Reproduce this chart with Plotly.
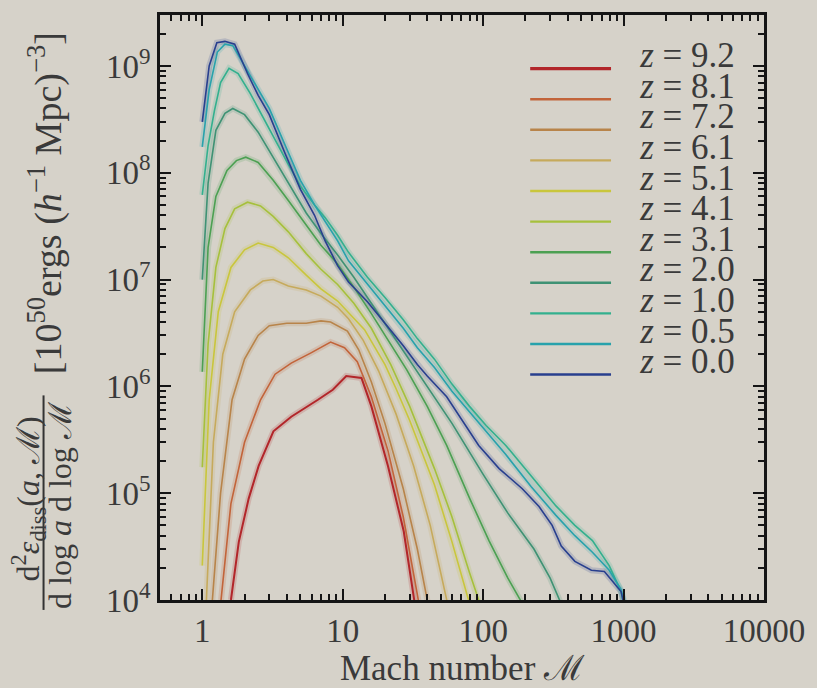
import math
import plotly.graph_objects as go

# ---------------- data ----------------
redshift_labels = ["9.2", "8.1", "7.2", "6.1", "5.1", "4.1", "3.1", "2.0", "1.0", "0.5", "0.0"]

mach_z92 = [1.6, 1.82, 2.14, 2.52, 3.21, 4.3, 6.66, 8.5, 10.6, 13.6, 16, 21, 27.2, 32.5, 35]
edis_z92 = [1e4, 3.5e4, 8.9e4, 1.8e5, 3.8e5, 5.2e5, 7.5e5, 9.3e5, 1.25e6, 1.2e6, 6.5e5, 1.8e5, 4.4e4, 1.05e4, 5e3]

mach_z81 = [1.36, 1.6, 2.0, 2.6, 3.3, 4.3, 5.9, 8.2, 10.3, 12.7, 16, 21, 27, 34.6, 38]
edis_z81 = [1e4, 8e4, 3e5, 7.5e5, 1.3e6, 1.65e6, 2.05e6, 2.6e6, 2.3e6, 1.7e6, 8e5, 2.5e5, 6e4, 1e4, 5e3]

mach_z72 = [1.18, 1.35, 1.63, 2.0, 2.5, 3.0, 4.0, 5.5, 7.0, 8.2, 10.8, 13, 16, 20, 27, 34, 40, 45]
edis_z72 = [1e4, 1e5, 7.5e5, 1.8e6, 3.0e6, 3.7e6, 3.9e6, 3.9e6, 4.1e6, 4.0e6, 3.3e6, 2.2e6, 1.1e6, 4.5e5, 1.1e5, 3.0e4, 1.0e4, 5e3]

mach_z61 = [1.07, 1.2, 1.4, 1.7, 2.2, 2.7, 3.2, 4.1, 5.5, 7.0, 9.2, 11, 14, 18, 24, 32, 42, 55, 60]
edis_z61 = [1e4, 3e5, 2e6, 5e6, 8e6, 9.7e6, 1.0e7, 8.7e6, 8.0e6, 7.0e6, 5.5e6, 4.3e6, 2.7e6, 1.4e6, 5.5e5, 1.8e5, 5e4, 1e4, 6e3]

mach_z51 = [1.0, 1.12, 1.3, 1.6, 2.0, 2.5, 3.2, 4.1, 5.5, 7.0, 9.2, 12, 14.3, 20, 24, 30, 45, 60, 79, 85]
edis_z51 = [2.1e4, 7.5e5, 5e6, 1.3e7, 1.9e7, 2.2e7, 2.0e7, 1.6e7, 1.1e7, 8.2e6, 6.3e6, 4.4e6, 3.4e6, 1.6e6, 9.5e5, 4.8e5, 1.2e5, 3.5e4, 1.0e4, 7e3]

mach_z41 = [1.0, 1.1, 1.25, 1.45, 1.7, 2.1, 2.6, 3.2, 4.1, 5.5, 7.0, 9.2, 12, 16, 22, 30, 45, 60, 80, 93, 100]
edis_z41 = [1.75e5, 2.5e6, 1.3e7, 3.0e7, 4.6e7, 5.3e7, 4.9e7, 3.9e7, 2.8e7, 1.75e7, 1.25e7, 9e6, 6e6, 3.5e6, 1.6e6, 6.5e5, 1.7e5, 6e4, 1.8e4, 1.0e4, 7e3]

mach_z31 = [1.0, 1.1, 1.25, 1.5, 1.75, 2.04, 2.5, 3.2, 4.1, 5.5, 7.0, 9.2, 12, 16, 22, 28.6, 40, 55, 80, 110, 150, 184, 200]
edis_z31 = [1.37e6, 2.0e7, 6e7, 1.05e8, 1.3e8, 1.4e8, 1.25e8, 8.5e7, 5.5e7, 3.2e7, 2.1e7, 1.4e7, 8.5e6, 4.8e6, 2.5e6, 1.43e6, 6.5e5, 2.8e5, 9e4, 3.6e4, 1.6e4, 1.0e4, 7e3]

mach_z20 = [1.0, 1.1, 1.25, 1.45, 1.65, 2.0, 2.5, 3.2, 4.1, 5.5, 7.0, 9.2, 12, 16, 22, 30, 40, 60, 100, 150, 230, 300, 350, 380]
edis_z20 = [1.0e7, 8e7, 2.5e8, 3.6e8, 4.0e8, 3.5e8, 2.4e8, 1.4e8, 8e7, 4.2e7, 2.7e7, 1.7e7, 1.05e7, 6.0e6, 3.2e6, 1.75e6, 1.0e6, 4.5e5, 1.5e5, 6.5e4, 3.0e4, 1.6e4, 1.0e4, 7e3]

mach_z10 = [1.0, 1.1, 1.22, 1.35, 1.55, 1.8, 2.2, 2.7, 3.3, 4.1, 5.0, 6.3, 7.5, 9.2, 11, 15, 20, 27, 34, 45, 60, 80, 105, 145, 220, 330, 450, 600, 790, 960, 1050]
edis_z10 = [6.2e7, 1.8e8, 3.8e8, 7.0e8, 9.5e8, 8.5e8, 5.5e8, 3.3e8, 2.0e8, 1.2e8, 7.5e7, 5.0e7, 3.8e7, 2.6e7, 1.8e7, 1.05e7, 6.8e6, 4.2e6, 2.8e6, 1.8e6, 1.05e6, 6.5e5, 4.3e5, 2.8e5, 1.45e5, 7.6e4, 5.0e4, 3.6e4, 2.1e4, 1.2e4, 7e3]

mach_z05 = [1.0, 1.12, 1.28, 1.45, 1.65, 2.0, 2.5, 3.0, 3.9, 5.0, 6.3, 7.5, 9.2, 11, 15, 20, 27, 34, 45, 60, 80, 105, 145, 220, 330, 450, 600, 790, 960, 1050]
edis_z05 = [1.75e8, 6.0e8, 1.35e9, 1.6e9, 1.55e9, 1.0e9, 6.0e8, 4.0e8, 1.8e8, 8.5e7, 5.0e7, 3.5e7, 2.3e7, 1.5e7, 9.0e6, 5.6e6, 3.5e6, 2.3e6, 1.5e6, 9.0e5, 5.8e5, 3.8e5, 2.3e5, 1.15e5, 6.2e4, 4.0e4, 2.8e4, 1.9e4, 1.25e4, 8e3]

mach_z00 = [1.0, 1.12, 1.27, 1.45, 1.7, 2.1, 2.5, 3.0, 3.9, 5.0, 6.3, 7.5, 9.2, 11, 15, 20, 27, 34, 40, 55, 70, 93, 130, 190, 250, 310, 360, 450, 590, 730, 960, 1080]
edis_z00 = [3.0e8, 1.0e9, 1.65e9, 1.7e9, 1.6e9, 8.5e8, 5.3e8, 3.5e8, 1.5e8, 7.0e7, 4.0e7, 2.3e7, 1.35e7, 9.5e6, 6.2e6, 3.9e6, 2.4e6, 1.6e6, 1.25e6, 8.0e5, 5.0e5, 2.8e5, 1.7e5, 1.1e5, 7.5e4, 5.0e4, 3.2e4, 2.3e4, 1.9e4, 1.85e4, 1.2e4, 6.0e3]

mach_series = [mach_z92, mach_z81, mach_z72, mach_z61, mach_z51, mach_z41,
               mach_z31, mach_z20, mach_z10, mach_z05, mach_z00]
edis_series = [edis_z92, edis_z81, edis_z72, edis_z61, edis_z51, edis_z41,
               edis_z31, edis_z20, edis_z10, edis_z05, edis_z00]

x_tick_vals = [1, 10, 100, 1000, 10000]
x_tick_text = ["1", "10", "100", "1000", "10000"]
y_tick_vals = [1e4, 1e5, 1e6, 1e7, 1e8, 1e9]
y_tick_text = ["10<sup>4</sup>", "10<sup>5</sup>", "10<sup>6</sup>", "10<sup>7</sup>",
               "10<sup>8</sup>", "10<sup>9</sup>"]

# ---------------- styling ----------------
colors = ["#b2262a", "#c2643a", "#b8844a", "#c6aa5c", "#c9c63c", "#a6c03c",
          "#4ca052", "#3f9274", "#33b08e", "#28a2ac", "#283f8e"]
BG = "#d6d2c9"
AX = "#151515"
TXT = "#3a3a3a"
FONT = "Liberation Serif"

W, H = 817, 688
L, R, T, B = 160, 772, 13, 602


def px_x(px):
    return (px - L) / (R - L)


def px_y(py):
    return (B - py) / (B - T)


fig = go.Figure()

# halos (soft glow like the reference) then the lines
for m, e, c in zip(mach_series, edis_series, colors):
    fig.add_trace(go.Scatter(x=m, y=e, mode="lines", line=dict(color=c, width=6),
                             opacity=0.18, hoverinfo="skip", showlegend=False))
for m, e, c, z in zip(mach_series, edis_series, colors, redshift_labels):
    fig.add_trace(go.Scatter(x=m, y=e, mode="lines",
                             line=dict(color=c, width=2.0 if z == "9.2" else 1.6),
                             name="z = " + z, showlegend=False))

# legend drawn on its own hidden axes
n = len(redshift_labels)
for k, (c, z) in enumerate(zip(colors, redshift_labels)):
    fig.add_trace(go.Scatter(x=[0, 1], y=[k, k], mode="lines", xaxis="x2", yaxis="y2",
                             line=dict(color=c, width=3.2 if z == "9.2" else 2.4),
                             showlegend=False, hoverinfo="skip"))
fig.add_trace(go.Scatter(x=[1.36] * n, y=[k - 0.33 for k in range(n)], mode="text",
                         xaxis="x2", yaxis="y2",
                         text=["<i>z</i> = " + z for z in redshift_labels],
                         textposition="middle right",
                         textfont=dict(family=FONT, size=35, color=TXT),
                         cliponaxis=False, showlegend=False, hoverinfo="skip"))

minor_x = [mm * 10 ** ex for ex in range(-1, 4) for mm in range(2, 10)]
minor_y = [mm * 10 ** ex for ex in range(4, 10) for mm in range(2, 10)]

axis_common = dict(type="log", ticks="inside", ticklen=11, tickwidth=2, tickcolor=AX,
                   showline=True, linecolor=AX, linewidth=2.5, mirror="allticks",
                   showgrid=False, zeroline=False,
                   tickfont=dict(family=FONT, size=33, color=TXT))

leg_top, leg_step = 67, 30.8
fig.update_layout(
    width=W, height=H,
    margin=dict(l=L, r=W - R, t=T, b=H - B),
    paper_bgcolor=BG, plot_bgcolor="rgba(0,0,0,0)",
    showlegend=False,
    font=dict(family=FONT, color=TXT),
    xaxis=dict(axis_common, range=[math.log10(0.5), 4], tickvals=x_tick_vals,
               ticktext=x_tick_text,
               minor=dict(tickvals=minor_x, ticks="inside", ticklen=6, tickwidth=2,
                          tickcolor=AX, showgrid=False),
               title=dict(text="Mach number ℳ", font=dict(family=FONT, size=35, color=TXT),
                          standoff=2)),
    yaxis=dict(axis_common, range=[4, math.log10(3e9)], tickvals=y_tick_vals,
               ticktext=y_tick_text,
               minor=dict(tickvals=minor_y, ticks="inside", ticklen=6, tickwidth=2,
                          tickcolor=AX, showgrid=False)),
    xaxis2=dict(domain=[px_x(535), 1.0], range=[0, (R - 535) / 82.0], visible=False,
                anchor="y2", fixedrange=True),
    yaxis2=dict(domain=[px_y(leg_top + leg_step * (n - 0.5)), px_y(leg_top - leg_step * 0.5)],
                range=[n - 0.5, -0.5], visible=False, anchor="x2", fixedrange=True),
)

# y-axis title: fraction + bracket
fig.add_annotation(text="d<sup>2</sup><i>ε</i><sub>diss</sub>(<i>a</i>, ℳ)",
                   xref="paper", yref="paper", x=px_x(27), y=px_y(500),
                   textangle=-90, showarrow=False, xanchor="center", yanchor="middle",
                   font=dict(family=FONT, size=32, color=TXT))
fig.add_annotation(text="d log <i>a</i> d log ℳ",
                   xref="paper", yref="paper", x=px_x(58), y=px_y(507),
                   textangle=-90, showarrow=False, xanchor="center", yanchor="middle",
                   font=dict(family=FONT, size=32, color=TXT))
fig.add_shape(type="line", xref="paper", yref="paper", x0=px_x(42), x1=px_x(42),
              y0=px_y(612), y1=px_y(396), line=dict(color="#333333", width=2))
fig.add_annotation(text="[10<sup>50</sup>ergs (<i>h</i><sup>−1</sup> Mpc)<sup>−3</sup>]",
                   xref="paper", yref="paper", x=px_x(44), y=px_y(203),
                   textangle=-90, showarrow=False, xanchor="center", yanchor="middle",
                   font=dict(family=FONT, size=38, color=TXT))

fig.write_html("out.html")
